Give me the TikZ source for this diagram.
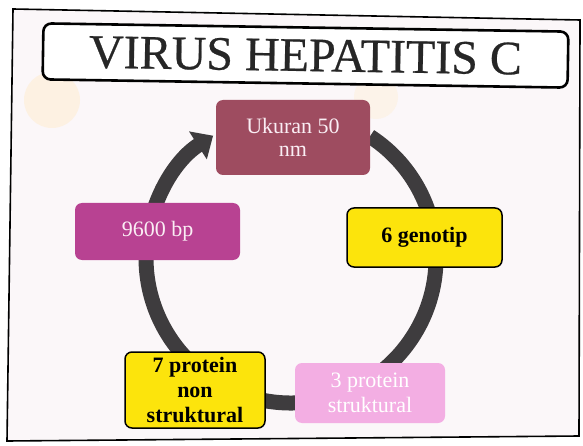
\documentclass[tikz,border=0pt]{standalone}
\usepackage{fontspec}
\setmainfont{Liberation Serif}
\usetikzlibrary{arrows.meta}
\definecolor{ringc}{RGB}{62,60,62}
\definecolor{maroonc}{RGB}{158,76,96}
\definecolor{magc}{RGB}{184,66,146}
\definecolor{yelc}{RGB}{252,228,12}
\definecolor{pinkc}{RGB}{243,174,227}
\definecolor{bgc}{RGB}{251,247,249}
\definecolor{blobc}{RGB}{253,241,226}
\definecolor{palew}{RGB}{250,238,244}
\tikzset{
  box/.style={rounded corners=7pt, align=center, inner sep=0pt, font=\fontsize{22}{24}\selectfont},
  darkbox/.style={box, fill=yelc, draw=black, line width=1.5pt, text=black, font=\fontsize{22}{25}\selectfont\bfseries},
  ring/.style={draw=ringc, line width=15pt}
}
\begin{document}
\begin{tikzpicture}[x=1pt,y=-1pt]
\useasboundingbox (0,0) rectangle (583,446);
% outer frame
\draw[line width=1.6pt, fill=bgc] (13,9) -- (580,20) -- (579,436) -- (7,441) -- cycle;
% faint background blobs
\fill[blobc] (52,100) circle (28);
\fill[blobc!70!bgc] (376,97) circle (22);
% title
\node[draw=black, line width=2.6pt, rounded corners=8pt, fill=white, minimum width=525pt, minimum height=56pt, inner sep=0pt, rotate=-0.9, text=black!85, font=\fontsize{48}{50}\selectfont\addfontfeature{FakeBold=0.5}] (title) at (305.5,55.5) {VIRUS HEPATITIS C};
% ring arrow
\draw[ring, -{Triangle[length=18pt,width=32pt]}] (291,258) ++(-57:145) arc[start angle=-57, end angle=237.5, radius=145];
% boxes
\node[box, fill=maroonc, text=palew, minimum width=154pt, minimum height=75pt, font=\fontsize{22}{23}\selectfont] (uk) at (293,137.5) {Ukuran 50\\nm};
\node[darkbox, minimum width=155pt, minimum height=59pt] (gen) at (424.5,237.5) {6 genotip};
\node[box, fill=magc, text=palew, minimum width=165pt, minimum height=57pt] (bp) at (157.5,231.5) {9600 bp};
\node[darkbox, minimum width=140pt, minimum height=76pt] (p7) at (195,390) {7 protein\\non\\struktural};
\node[box, fill=pinkc, text=white, minimum width=150pt, minimum height=60pt, font=\fontsize{22}{25}\selectfont] (p3) at (370,393) {3 protein\\struktural};
\end{tikzpicture}
\end{document}
